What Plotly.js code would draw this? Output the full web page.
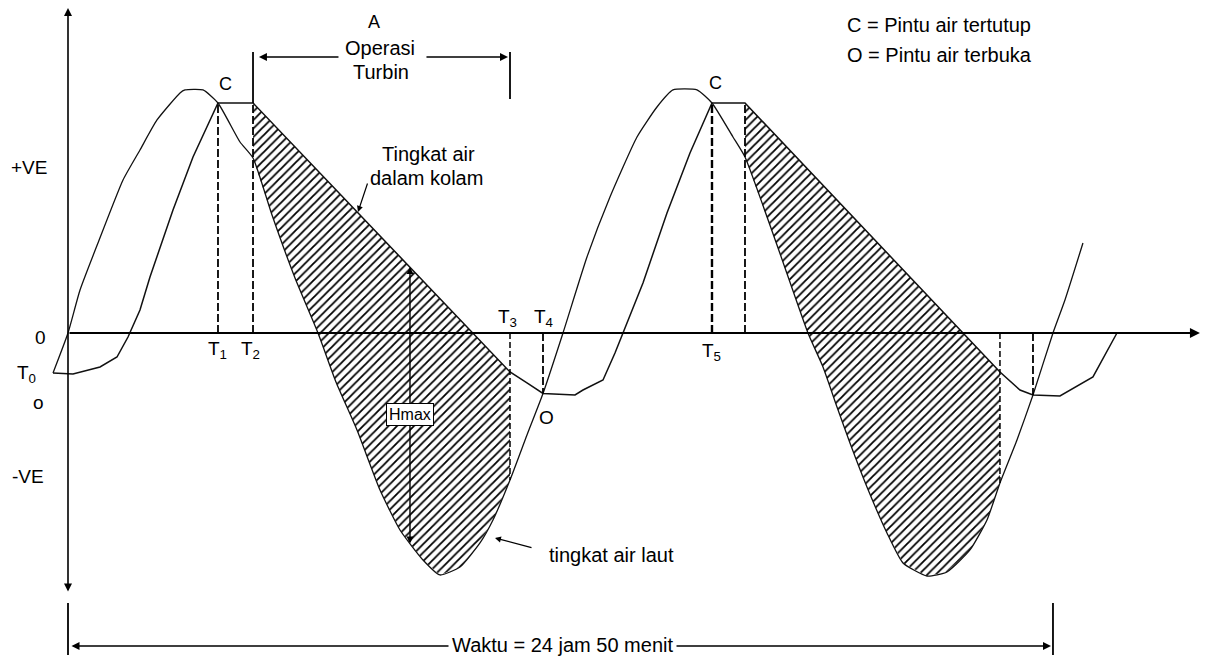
<!DOCTYPE html>
<html><head><meta charset="utf-8">
<script src="https://cdn.plot.ly/plotly-3.0.1.min.js"></script>
<style>html,body{margin:0;padding:0;background:#fff}</style>
</head><body><div id="chart" style="width:1209px;height:656px"></div>
<script>
// time in hours from start, level relative to mean sea level
const seaTime = [-0.378, 0, 0.303, 0.756, 1.387, 1.815, 2.244, 2.824, 2.950, 3.404, 3.782, 4.337, 4.665,
  5.144, 5.724, 6.304, 6.757, 7.287, 7.867, 8.371, 8.951, 9.380, 9.884, 10.388, 10.716, 11.145, 11.573, 11.977,
  12.481, 13.086, 13.666, 14.347, 14.851, 15.254, 15.860, 16.238, 16.767, 17.070, 17.877, 18.658, 19.037, 19.390,
  19.717, 20.146, 20.650, 21.054, 21.659, 22.163, 22.743, 23.172, 23.499, 23.928, 24.332, 24.836, 25.138, 25.592];
const seaLevel = [-0.826, 0, 0.888, 1.859, 3.161, 3.781, 4.401, 4.959, 5.021, 5.021, 4.752, 3.946, 3.616,
  2.438, 1.136, 0, -1.012, -2.004, -3.244, -4.070, -4.690, -5.000, -4.835, -4.339, -3.864, -3.037, -2.107, -1.250,
  0, 1.570, 2.810, 4.050, 4.669, 5.021, 5.021, 4.752, 4.050, 3.636, 1.818, 0, -0.702, -1.529,
  -2.273, -3.182, -4.132, -4.752, -5.021, -4.938, -4.483, -3.864, -3.099, -2.211, -1.281, 0, 0.682, 1.859];
const basinTime = [-0.378, 0.126, 0.807, 1.235, 1.513, 1.815, 2.067, 2.647, 3.152, 3.782, 4.665, 11.145, 11.573,
  11.977, 12.784, 12.985, 13.490, 13.792, 13.994, 14.498, 15.103, 15.683, 16.238, 17.070, 23.499, 24.004, 24.332,
  25.012, 25.844, 26.449];
const basinLevel = [-0.826, -0.847, -0.702, -0.496, -0.083, 0.475, 1.157, 2.541, 3.636, 4.752, 4.752, -0.806, -1.033,
  -1.250, -1.281, -1.178, -0.971, -0.413, 0, 1.033, 2.479, 3.719, 4.752, 4.752, -0.806, -1.178, -1.281,
  -1.302, -0.909, 0];
const gateCloseTimes = [3.782, 16.238];    // C : T1, T5
const turbineStartTimes = [4.665, 17.070]; // T2
const turbineStopTimes = [11.145, 23.499]; // T3
const gateOpenTimes = [11.977, 24.332];    // O : T4
const tideDuration = 24.836;               // 24 jam 50 menit
const hmaxTime = 8.623;

function levelAt(ts, hs, t) {
  for (let i = 0; i < ts.length - 1; i++) {
    if (t >= ts[i] && t <= ts[i + 1]) {
      const f = (ts[i + 1] === ts[i]) ? 0 : (t - ts[i]) / (ts[i + 1] - ts[i]);
      return hs[i] + f * (hs[i + 1] - hs[i]);
    }
  }
  return 0;
}
const seaAt = t => levelAt(seaTime, seaLevel, t);
const basinAt = t => levelAt(basinTime, basinLevel, t);

const traces = [];
// hatched regions (turbine operation)
for (let c = 0; c < turbineStartTimes.length; c++) {
  const t2 = turbineStartTimes[c], t3 = turbineStopTimes[c];
  const px = [t2, t3], py = [basinAt(t2), basinAt(t3)];
  for (let i = seaTime.length - 1; i >= 0; i--) {
    if (seaTime[i] <= t3 + 1e-9 && seaTime[i] >= t2 - 1e-9) { px.push(seaTime[i]); py.push(seaLevel[i]); }
  }
  traces.push({x: px, y: py, type: 'scatter', mode: 'lines', fill: 'toself',
    line: {width: 0, color: 'rgba(0,0,0,0)'},
    fillcolor: 'white',
    fillpattern: {shape: '/', size: 6, solidity: 0.3, fgcolor: '#000', bgcolor: '#fff'}, hoverinfo: 'skip'});
}
traces.push({x: seaTime, y: seaLevel, type: 'scatter', mode: 'lines',
  line: {color: '#111', width: 1.3, shape: 'spline', smoothing: 0.5}, hoverinfo: 'skip'});
traces.push({x: basinTime, y: basinLevel, type: 'scatter', mode: 'lines',
  line: {color: '#111', width: 1.5}, hoverinfo: 'skip'});

function vline(t, y0, y1, dash, w) {
  traces.push({x: [t, t], y: [y0, y1], type: 'scatter', mode: 'lines', line: {color: '#000', width: w || 1.8, dash: dash || 'solid'}, hoverinfo: 'skip'});
}
for (let c = 0; c < 2; c++) {
  vline(gateCloseTimes[c], 0, basinAt(gateCloseTimes[c]), '8px,3px', c === 1 ? 2.4 : 1.8);
  vline(turbineStartTimes[c], 0, basinAt(turbineStartTimes[c]), '8px,3px', 1.8);
  vline(turbineStopTimes[c], 0, seaAt(turbineStopTimes[c]), '6px,3px', 1.5);
  vline(gateOpenTimes[c], 0, basinAt(gateOpenTimes[c]), '8px,3px', 1.8);
}
// bracket ticks "Operasi Turbin"
vline(turbineStartTimes[0], basinAt(turbineStartTimes[0]), 5.806, 'solid', 1.8);
vline(turbineStopTimes[0], 4.835, 5.806, 'solid', 1.8);
// time dimension ticks
vline(0, -5.579, -6.653, 'solid', 1.8);
vline(tideDuration, -5.579, -6.653, 'solid', 1.8);

const F = 'Liberation Sans, Arial, sans-serif';
function txt(x, y, text, size, xanchor, extra) {
  return Object.assign({x, y, xref: 'x', yref: 'y', text, showarrow: false, xanchor: xanchor || 'center', yanchor: 'middle',
    font: {family: F, size: size || 20, color: '#000'}}, extra || {});
}
function arrow(x, y, ax, ay, both, extra) {
  return Object.assign({x, y, ax, ay, xref: 'x', yref: 'y', axref: 'x', ayref: 'y', text: '', showarrow: true,
    arrowhead: 2, arrowsize: 1, arrowwidth: 1.6, arrowcolor: '#000', standoff: 0, startstandoff: 0,
    arrowside: both ? 'end+start' : 'end'}, extra || {});
}
const annotations = [
  arrow(0, 6.715, 0, -5.372, true),
  arrow(28.542, 0, 0, 0, false, {arrowwidth: 2}),
  arrow(tideDuration - 0.05, -6.467, 0.05, -6.467, true),
  arrow(turbineStartTimes[0] + 0.15, 5.702, 6.858, 5.702, false),
  arrow(turbineStopTimes[0] - 0.05, 5.702, 9.001, 5.702, false),
  arrow(hmaxTime, 1.364, hmaxTime, -4.380, true, {arrowwidth: 1.4}),
  arrow(7.312, 2.500, 7.564, 3.120, false, {arrowwidth: 1.2}),
  arrow(10.766, -4.236, 11.725, -4.442, false, {arrowwidth: 1.2}),
  txt(hmaxTime, -1.694, 'Hmax', 16, 'center', {bgcolor: '#fff', bordercolor: '#000', borderwidth: 1, borderpad: 2}),
  txt(12.456, -6.446, 'Waktu = 24 jam 50 menit', 20, 'center', {bgcolor: '#fff', borderpad: 3}),
  txt(7.717, 6.426, 'A', 18),
  txt(7.867, 5.888, 'Operasi', 20),
  txt(7.892, 5.393, 'Turbin', 20),
  txt(3.959, 5.145, 'C', 18),
  txt(16.339, 5.165, 'C', 18),
  txt(12.077, -1.736, 'O', 19),
  txt(3.757, -0.351, 'T<sub>1</sub>', 19),
  txt(4.589, -0.351, 'T<sub>2</sub>', 19),
  txt(11.094, 0.310, 'T<sub>3</sub>', 19),
  txt(11.977, 0.310, 'T<sub>4</sub>', 19),
  txt(16.238, -0.393, 'T<sub>5</sub>', 19),
  txt(-0.706, -0.083, '0', 19),
  txt(-1.034, -0.847, 'T<sub>0</sub>', 19),
  txt(-0.756, -1.426, 'o', 19),
  txt(-0.971, 3.409, '+VE', 19),
  txt(-1.009, -2.975, '-VE', 19),
  txt(7.867, 3.698, 'Tingkat air', 20, 'left'),
  txt(7.564, 3.202, 'dalam kolam', 20, 'left'),
  txt(12.077, -4.587, 'tingkat air laut', 20, 'left'),
  txt(19.591, 6.364, 'C = Pintu air tertutup', 20, 'left'),
  txt(19.591, 5.744, 'O = Pintu air terbuka', 20, 'left')
];

const layout = {
  width: 1209, height: 656, autosize: false,
  margin: {l: 0, r: 0, t: 0, b: 0, pad: 0},
  paper_bgcolor: '#fff', plot_bgcolor: '#fff', showlegend: false,
  xaxis: {range: [-1.7146, 28.770], visible: false, fixedrange: true},
  yaxis: {range: [-6.674, 6.880], visible: false, fixedrange: true},
  annotations
};
Plotly.newPlot('chart', traces, layout, {staticPlot: true, displayModeBar: false});
</script></body></html>
